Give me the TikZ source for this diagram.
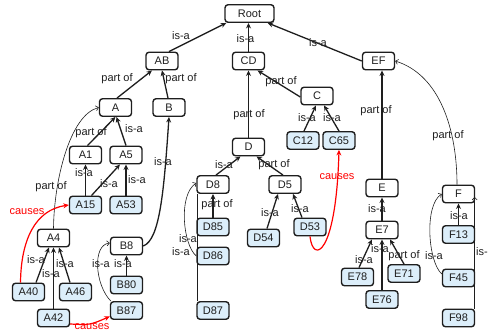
\documentclass[tikz,border=0pt]{standalone}
\usepackage{fontspec}
\setmainfont{Liberation Sans}
\usetikzlibrary{arrows.meta,calc}
\definecolor{leafblue}{RGB}{220,238,250}
\definecolor{ink}{RGB}{30,30,30}
\newcommand{\lblfont}{\fontsize{11}{13}\selectfont}
\tikzset{
  box/.style={draw=ink, line width=1.4pt, rounded corners=3pt, minimum width=32pt,
    minimum height=17.5pt, inner sep=0pt, font=\lblfont, text=ink},
  leaf/.style={box, fill=leafblue},
  edge/.style={draw=ink, line width=1.3pt, -{Stealth[length=5.5pt,width=5pt]}},
  thinedge/.style={draw=ink, line width=0.6pt, -{Straight Barb[length=2.5pt,width=5pt]}},
  thinline/.style={draw=ink, line width=0.6pt},
  causeedge/.style={draw=red, line width=1.2pt, -{Stealth[length=5.5pt,width=5pt]}},
  lbl/.style={inner sep=0pt, font=\lblfont, text=ink},
  redlbl/.style={inner sep=0pt, font=\lblfont, text=red},
}
\begin{document}
\begin{tikzpicture}[x=1pt,y=-1pt]
\useasboundingbox (0,0) rectangle (488,332);
% nodes
\node[box, minimum width=49pt] (Root) at (249.5,13.5) {Root};
\node[box] (AB) at (162,61) {AB};
\node[box] (CD) at (248.5,61) {CD};
\node[box] (EF) at (378.5,61) {EF};
\node[box] (A) at (115.5,107.5) {A};
\node[box] (B) at (169,107.5) {B};
\node[box] (C) at (317,96) {C};
\node[leaf] (C12) at (303,140.5) {C12};
\node[leaf] (C65) at (339,140.5) {C65};
\node[box] (A1) at (85.5,155) {A1};
\node[box] (A5) at (126,155) {A5};
\node[leaf] (A15) at (85.5,205) {A15};
\node[leaf] (A53) at (126,205) {A53};
\node[box] (D) at (248.5,147) {D};
\node[box] (D8) at (213,184.5) {D8};
\node[box] (D5) at (285,184.5) {D5};
\node[leaf] (D85) at (213,227) {D85};
\node[leaf] (D86) at (213,256) {D86};
\node[leaf] (D87) at (213,310.5) {D87};
\node[leaf] (D54) at (263.5,238) {D54};
\node[leaf] (D53) at (310,227) {D53};
\node[box] (E) at (382,188) {E};
\node[box] (E7) at (382,230) {E7};
\node[leaf] (E78) at (357.5,277) {E78};
\node[leaf] (E71) at (404,273.5) {E71};
\node[leaf] (E76) at (382,299.5) {E76};
\node[box] (F) at (458.5,194) {F};
\node[leaf] (F13) at (458.5,234.5) {F13};
\node[leaf] (F45) at (458.5,278) {F45};
\node[leaf] (F98) at (458.5,318) {F98};
\node[box] (A4) at (53.5,238) {A4};
\node[leaf] (A40) at (28.5,292) {A40};
\node[leaf] (A46) at (75.5,292) {A46};
\node[leaf] (A42) at (53.5,318) {A42};
\node[box] (B8) at (126.5,246) {B8};
\node[leaf] (B80) at (126.5,285) {B80};
\node[leaf] (B87) at (126.5,310.5) {B87};
% top level
\draw[edge] ($(AB.north)+(7,0)$) -- ($(Root.south west)+(2,0)$);
\draw[edge] (CD.north) -- (CD.north |- Root.south);
\draw[edge] (EF.west) -- ($(Root.south east)+(-7,0)$);
% AB subtree
\draw[edge] ($(A.north)+(1.5,0)$) -- ($(AB.south)+(-10,0)$);
\draw[edge] ($(B.north)+(-1,0)$) -- (AB.south);
\draw[edge] ($(A1.north)+(2,0)$) -- (A.south);
\draw[edge] (A5.north) -- ($(A.south)+(1,0)$);
\draw[edge] (A15.north) -- (A1.south);
\draw[edge] ($(A15.north)+(6,0)$) -- ($(A5.south)+(-6,0)$);
\draw[edge] (A53.north) -- (A5.south);
\draw[edge] (B8.east) .. controls (160,240) and (164,190) .. (B.south);
\draw[thinedge] (A4.north) .. controls (54,180) and (70,115) .. (A.west);
\draw[causeedge] ($(A40.north)+(-8,0)$) .. controls (21,240) and (35,210) .. (A15.west);
\draw[edge] ($(A40.north)+(7.5,0)$) -- ($(A4.south)+(-4.5,0)$);
\draw[edge] (A42.north) -- (A4.south);
\draw[edge] ($(A46.north)+(-5.5,0)$) -- ($(A4.south)+(5.5,0)$);
\draw[causeedge] ($(A42.east)+(0,6)$) .. controls (90,325) .. ($(B87.west)+(0,6)$);
\draw[edge] (B80.north) -- (B8.south);
\draw[thinedge] ($(B87.north west)+(1,0)$) .. controls (95,285) and (92,245) .. ($(B8.west)+(0,-3)$);
% CD subtree
\draw[edge] (D.north) -- (CD.south);
\draw[edge] ($(C.west)+(0,1)$) -- ($(CD.south)+(9,0)$);
\draw[edge] ($(C12.north)+(1,0)$) -- ($(C.south)+(-1,0)$);
\draw[edge] (C65.north) -- ($(C.south)+(7,0)$);
\draw[causeedge] (D53.south) .. controls (313,264) and (336,256) .. (C65.south);
\draw[edge] ($(D8.north)+(3,0)$) -- ($(D.south)+(-8,0)$);
\draw[edge] ($(D5.north)+(-2,0)$) -- ($(D.south)+(8,0)$);
\draw[edge] (D85.north) -- (D8.south);
\draw[thinedge] (D86.west) .. controls (183,245) and (178,195) .. ($(D8.west)+(0,-1.5)$);
\draw[thinline] ($(D87.north west)+(0.5,0)$) -- ($(D8.south west)+(0.5,0)$);
\draw[edge] ($(D54.north)+(3.5,0)$) -- ($(D5.south)+(-7,0)$);
\draw[edge] ($(D53.north)+(-8,0)$) -- ($(D5.south)+(8,0)$);
% EF subtree
\draw[edge] (E.north) -- (E.north |- EF.south);
\draw[thinedge] ($(F.north)+(-1.5,0)$) .. controls (457,130) and (440,75) .. (EF.east);
\draw[edge] (E7.north) -- (E.south);
\draw[edge] ($(E78.north)+(1.5,0)$) -- ($(E7.south)+(-10,0)$);
\draw[edge] (E76.north) -- (E7.south);
\draw[edge] (E71.north) -- ($(E7.south)+(8,0)$);
\draw[edge] (F13.north) -- (F.south);
\draw[thinedge] ($(F45.west)+(0,-4)$) .. controls (428,262) and (424,205) .. (F.west);
\draw[thinedge] ($(F98.north east)+(-0.5,0)$) -- ($(F.east)+(-0.5,3)$);
% labels
\node[lbl] (l1) at (181,36) {is-a};
\node[lbl] (l2) at (245.5,39) {is-a};
\node[lbl] (l3) at (318,43) {is-a};
\node[lbl] (l4) at (117,79) {part of};
\node[lbl] (l5) at (181,79) {part of};
\node[lbl] (l6) at (281,82) {part of};
\node[lbl] (l7) at (249,115) {part of};
\node[lbl] (l8) at (376,111) {part of};
\node[lbl] (l9) at (448,136) {part of};
\node[lbl] (l10) at (307,118) {is-a};
\node[lbl] (l11) at (332,118) {is-a};
\node[lbl] (l12) at (91,133) {part of};
\node[lbl] (l13) at (134,129) {is-a};
\node[lbl] (l14) at (163,162) {is-a};
\node[lbl] (l15) at (84,173) {is-a};
\node[lbl] (l16) at (109,184) {is-a};
\node[lbl] (l17) at (137,180) {is-a};
\node[lbl] (l18) at (51,187) {part of};
\node[redlbl] (l19) at (27,212) {causes};
\node[lbl] (l20) at (224,165) {is-a};
\node[lbl] (l21) at (274,165) {part of};
\node[lbl] (l22) at (217,205) {part of};
\node[lbl] (l23) at (270,213) {is-a};
\node[lbl] (l24) at (300,209) {is-a};
\node[redlbl] (l25) at (337,177) {causes};
\node[lbl] (l26) at (377,209) {is-a};
\node[lbl] (l27) at (459,216) {is-a};
\node[lbl] (l28) at (188,239) {is-a};
\node[lbl] (l29) at (181,252) {is-a};
\node[lbl] (l30) at (36,260) {is-a};
\node[lbl] (l31) at (51,274) {is-a};
\node[lbl] (l32) at (65,264) {is-a};
\node[lbl] (l33) at (101,264) {is-a};
\node[lbl] (l34) at (123,264) {is-a};
\node[lbl] (l35) at (364,260) {is-a};
\node[lbl] (l36) at (380,249) {is-a};
\node[lbl] (l37) at (404,256) {part of};
\node[lbl] (l38) at (434,256) {is-a};
\node[lbl, anchor=west] (l39) at (476,252) {is-};
\node[redlbl] (l40) at (92,327) {causes};
\end{tikzpicture}
\end{document}
